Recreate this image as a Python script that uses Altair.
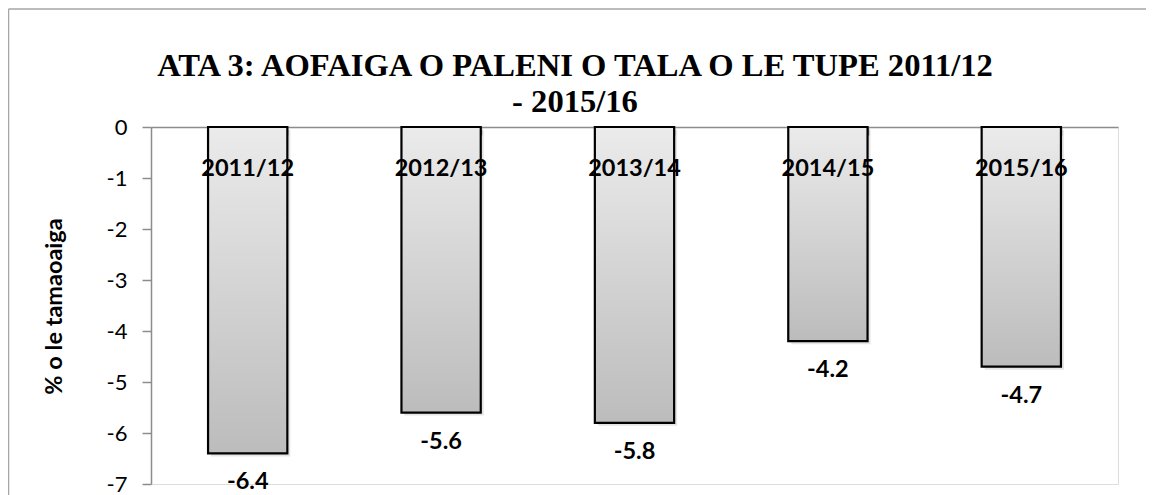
import altair as alt
import pandas as pd

years = ["2011/12", "2012/13", "2013/14", "2014/15", "2015/16"]
values = [-6.4, -5.6, -5.8, -4.2, -4.7]
y_ticks = [0, -1, -2, -3, -4, -5, -6, -7]
title_lines = ["ATA 3: AOFAIGA O PALENI O TALA O LE TUPE 2011/12", "- 2015/16"]
y_title = "% o le tamaoaiga"

df = pd.DataFrame({
    "year": years,
    "value": values,
    "label": [f"{v:.1f}" for v in values],
})

W, H = 967, 357
AXIS_GRAY = "#8c8c8c"
LABEL_FONT = "Lato"

x_enc = alt.X(
    "year:N",
    sort=years,
    scale=alt.Scale(paddingInner=0.59, paddingOuter=0.295),
    axis=alt.Axis(
        orient="bottom", offset=-H, labels=False, title=None,
        tickBand="extent", tickSize=8, tickColor=AXIS_GRAY, tickWidth=1.5,
        domainColor=AXIS_GRAY, domainWidth=1.5, grid=False,
    ),
)
y_enc = alt.Y(
    "value:Q",
    scale=alt.Scale(domain=[-7, 0], nice=False, zero=True),
    axis=alt.Axis(
        values=y_ticks, labelExpr="'' + datum.value",
        title=y_title, titleFont=LABEL_FONT, titleFontSize=23.5, titleFontWeight="bold",
        titleColor="black", titleAngle=-90, titleX=-97, titleY=179,
        titleAlign="center", titleBaseline="middle",
        labelFont=LABEL_FONT, labelFontSize=22, labelColor="black", labelPadding=15,
        tickSize=9, tickColor=AXIS_GRAY, tickWidth=1.5,
        domainColor=AXIS_GRAY, domainWidth=1.5, grid=False,
    ),
)

base = alt.Chart(df)
one = pd.DataFrame({"a": [0]})

border_top = alt.Chart(one).mark_rule(stroke="#a6a6a6", strokeWidth=1.5).encode(
    x=alt.value(-142.5), x2=alt.value(W + 120), y=alt.value(-118)
)
border_left = alt.Chart(one).mark_rule(stroke="#a6a6a6", strokeWidth=1.5).encode(
    x=alt.value(-142.5), y=alt.value(-118), y2=alt.value(H + 60)
)

shadow = base.mark_bar(color="#000000", opacity=0.10, xOffset=3, yOffset=3).encode(
    x=alt.X("year:N", sort=years), y="value:Q"
)

bars = base.mark_bar(
    stroke="black", strokeWidth=2.2,
    color=alt.Gradient(
        gradient="linear",
        stops=[alt.GradientStop(color="#ebebeb", offset=0),
               alt.GradientStop(color="#bcbcbc", offset=1)],
        x1=0, x2=0, y1=0, y2=1,
    ),
).encode(x=x_enc, y=y_enc)

cat_labels = base.mark_text(
    font=LABEL_FONT, fontSize=23.5, fontWeight="bold", color="black",
    baseline="middle", dy=42,
).encode(x=alt.X("year:N", sort=years), y=alt.datum(0), text="year:N")

val_labels = base.mark_text(
    font=LABEL_FONT, fontSize=23.5, fontWeight="bold", color="black",
    baseline="middle", dy=29,
).encode(x=alt.X("year:N", sort=years), y="value:Q", text="label:N")

chart = alt.layer(border_top, border_left, shadow, bars, cat_labels, val_labels).properties(
    width=W, height=H,
    autosize=alt.AutoSizeParams(type="none"),
    padding={"left": 143, "top": 119, "right": 28, "bottom": 12},
    title=alt.TitleParams(
        text=title_lines, font="Liberation Serif", fontSize=32.6, fontWeight="bold",
        color="black", anchor="middle", frame="group", dx=-59.5, lineHeight=36,
        offset=0, baseline="bottom", dy=143.5,
    ),
).configure_view(stroke=None).configure(background="white")

chart.save("out.html", embed_options={"renderer": "svg", "actions": False})
